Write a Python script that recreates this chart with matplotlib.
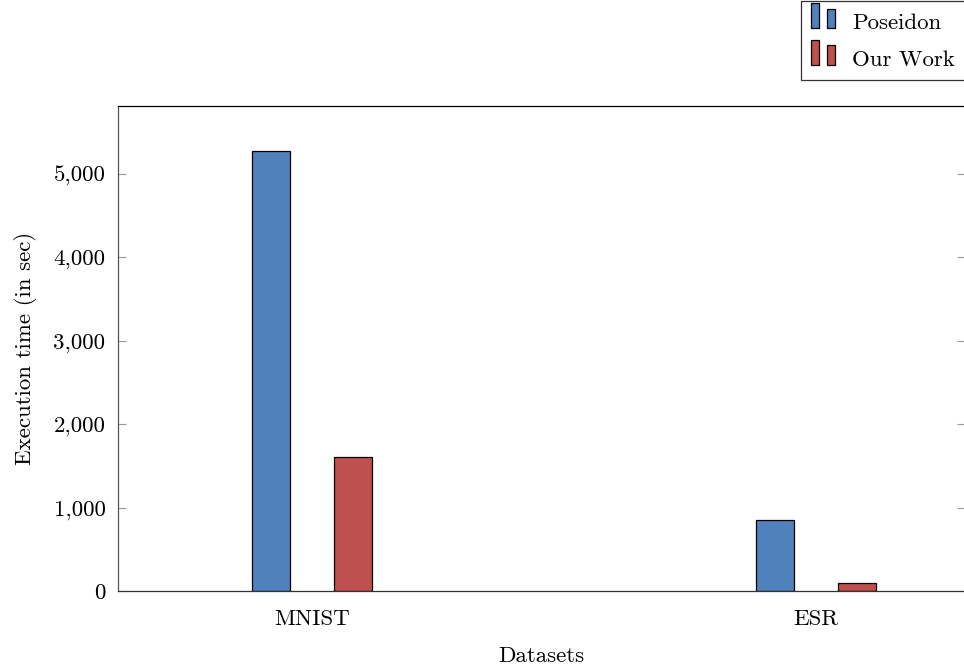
import matplotlib
matplotlib.use('Agg')
import matplotlib.pyplot as plt
import matplotlib.patches as mpatches
from matplotlib.legend_handler import HandlerBase
from matplotlib.ticker import FuncFormatter
import numpy as np

plt.rcParams['font.family'] = ['cmr10', 'DejaVu Serif']
plt.rcParams['axes.formatter.use_mathtext'] = True

# data
datasets = ['MNIST', 'ESR']
poseidon = [5280, 850]
our_work = [1610, 100]
series_names = ['Poseidon', 'Our Work']
blue = '#4F81BD'
red = '#C0504D'
fs = 16.5


class TwoBars(HandlerBase):
    # pgfplots style ybar legend image: two little bars
    def create_artists(self, legend, orig, xd, yd, w, h, fsz, trans):
        c = orig.get_facecolor()
        bw = w * 0.34
        r1 = mpatches.Rectangle((xd, yd - 0.1 * h), bw, h * 1.15, fc=c, ec='black', lw=0.9, transform=trans)
        r2 = mpatches.Rectangle((xd + w * 0.66, yd - 0.1 * h), bw, h * 0.9, fc=c, ec='black', lw=0.9, transform=trans)
        return [r1, r2]


fig = plt.figure(figsize=(9.64, 6.68), dpi=100)
W, H = 964., 668.
ax = fig.add_axes([118 / W, (H - 591) / H, (965 - 118) / W, (591 - 106) / H])

x = np.arange(len(datasets))
bw = 38 / 504.
off = 41 / 504.
ax.bar(x - off, poseidon, bw, color=blue, edgecolor='black', linewidth=0.9)
ax.bar(x + off, our_work, bw, color=red, edgecolor='black', linewidth=0.9)

ax.set_xlim(-0.385, 1.296)
ax.set_ylim(0, 5815)
ax.set_xticks(x)
ax.set_xticklabels(datasets)
ax.set_yticks([0, 1000, 2000, 3000, 4000, 5000])
ax.yaxis.set_major_formatter(FuncFormatter(lambda v, p: '{:,.0f}'.format(v)))
ax.tick_params(axis='x', length=0, labelsize=fs, pad=13)
ax.tick_params(axis='y', direction='in', length=6, width=0.8, color='#999999',
               labelsize=fs, right=True, pad=9)
for s in ax.spines.values():
    s.set_linewidth(0.9)
ax.spines['left'].set_color('#555555')
ax.spines['bottom'].set_color('#333333')
ax.spines['top'].set_color('black')

ax.set_xlabel('Datasets', fontsize=fs, labelpad=13)
ax.set_ylabel('Execution time (in sec)', fontsize=fs, labelpad=12)

h1 = mpatches.Patch(facecolor=blue)
h2 = mpatches.Patch(facecolor=red)
leg = fig.legend(handles=[h1, h2], labels=series_names, loc='upper right',
                 bbox_to_anchor=(964.5 / W, 1 - 1 / H), handler_map={mpatches.Patch: TwoBars()},
                 fontsize=fs, frameon=True, fancybox=False, edgecolor='black',
                 handlelength=1.05, handleheight=1.1, handletextpad=0.75,
                 borderpad=0.42, labelspacing=0.6, borderaxespad=0)
leg.get_frame().set_linewidth(0.9)

fig.savefig('out.png', dpi=100)
